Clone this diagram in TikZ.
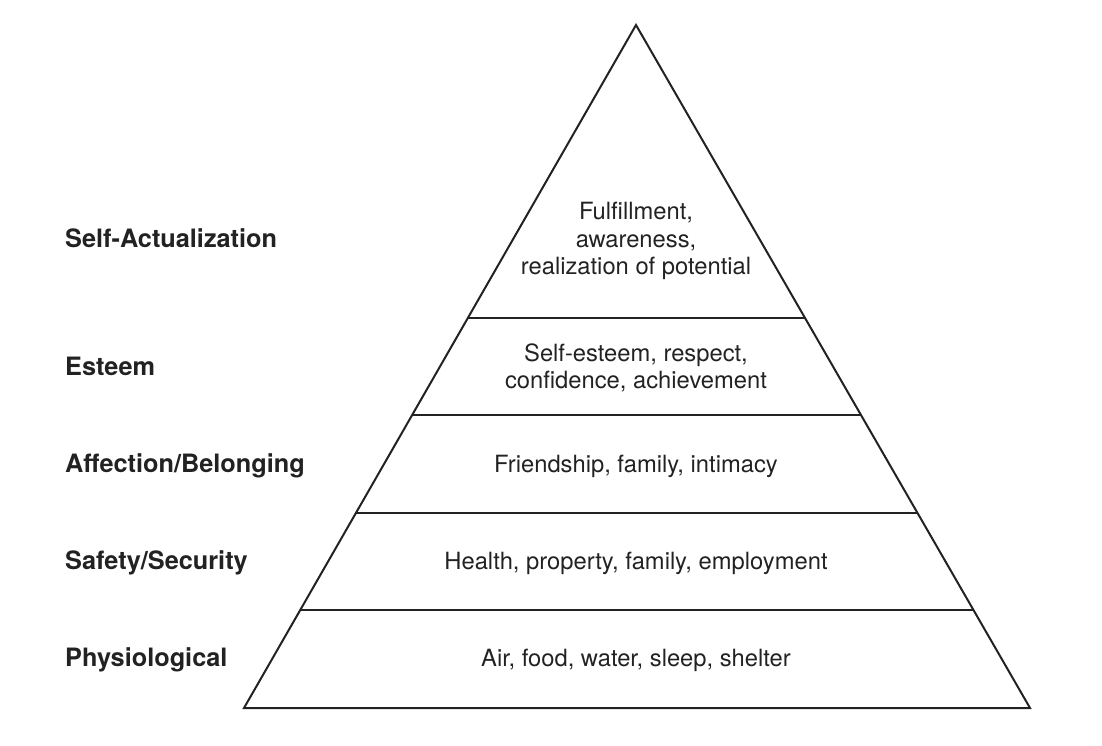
\documentclass[tikz,border=0pt]{standalone}
\usepackage{fontspec}
\setmainfont{TeX Gyre Heros}
\usetikzlibrary{calc}
\definecolor{ink}{HTML}{222222}
\begin{document}
\begin{tikzpicture}[x=1pt,y=-1pt,
  edge/.style={draw=ink, line width=2pt, line join=miter},
  lab/.style={font=\fontsize{25.3}{29}\selectfont\bfseries, text=ink, anchor=base west, inner sep=0pt},
  txt/.style={font=\fontsize{23.75}{27.5}\selectfont, text=ink, align=center, inner sep=0pt}]
\useasboundingbox (0,0) rectangle (1102,746);
\coordinate (apex) at (636,25);
\coordinate (bl) at (244,708);
\coordinate (br) at (1030,708);
\draw[edge] (apex) -- (bl) -- (br) -- cycle;
\foreach \f/\n in {0.42899/a,0.57101/b,0.71449/c,0.85652/d}{
  \coordinate (l\n) at ($(apex)!\f!(bl)$);
  \coordinate (r\n) at ($(apex)!\f!(br)$);
  \draw[edge] (l\n) -- (r\n);
}
\node[lab] (n1) at (65,247) {Self-Actualization};
\node[lab] (n2) at (65,375.5) {Esteem};
\node[lab] (n3) at (65,472.5) {Affection/Belonging};
\node[lab] (n4) at (65,569.5) {Safety/Security};
\node[lab] (n5) at (65,666.5) {Physiological};
\node[txt] (t1) at (636,241) {Fulfillment,\\awareness,\\realization of potential};
\node[txt] (t2) at (636,368) {Self-esteem, respect,\\confidence, achievement};
\node[txt,anchor=base] (t3) at (636,472.5) {Friendship, family, intimacy};
\node[txt,anchor=base] (t4) at (636,569.5) {Health, property, family, employment};
\node[txt,anchor=base] (t5) at (636,666.5) {Air, food, water, sleep, shelter};
\end{tikzpicture}
\end{document}
